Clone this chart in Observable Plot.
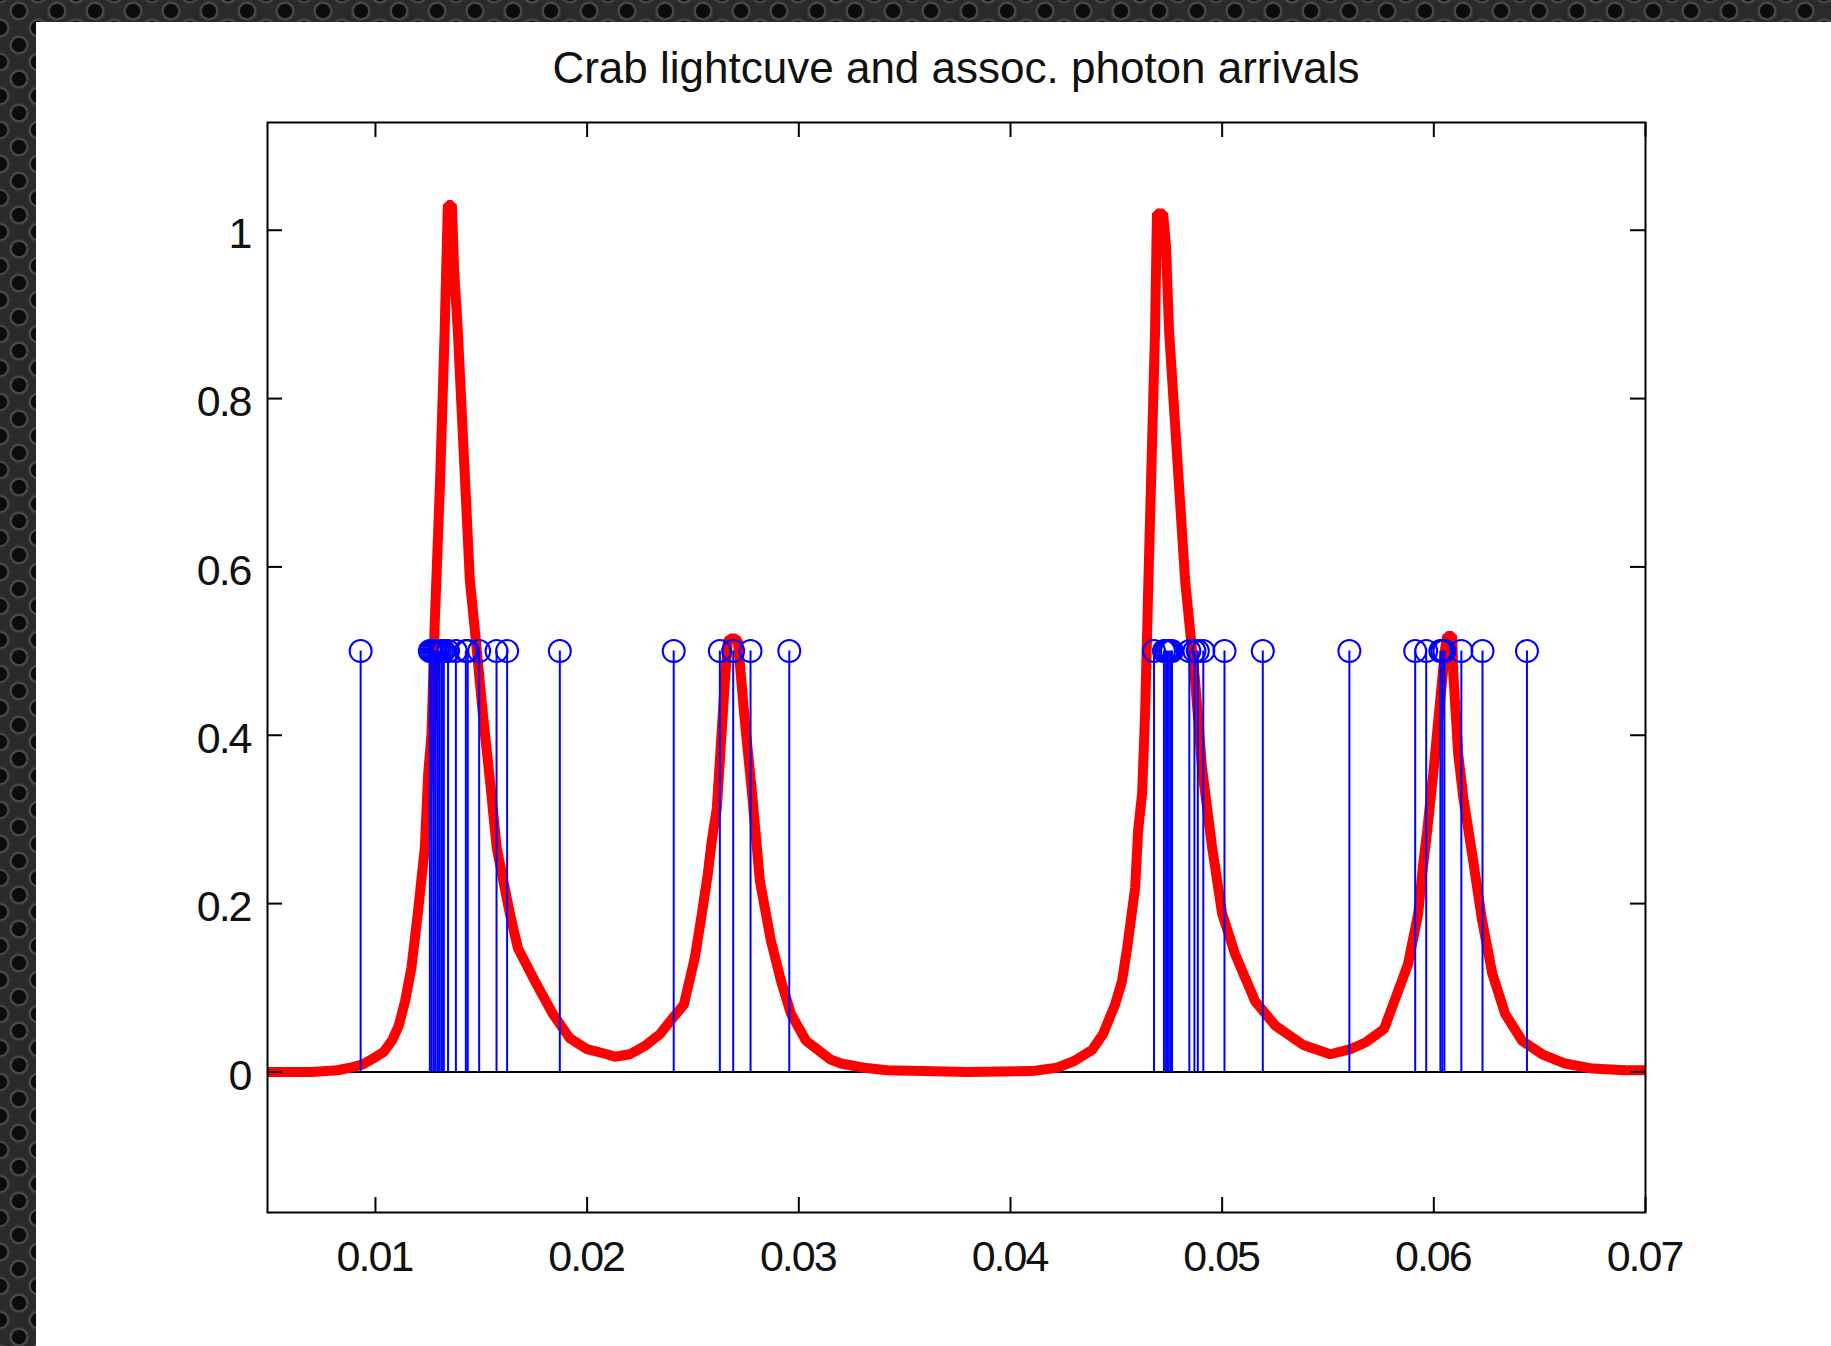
<!DOCTYPE html>
<html>
<head>
<meta charset="utf-8">
<script src="https://cdn.jsdelivr.net/npm/d3@7"></script>
<script src="https://cdn.jsdelivr.net/npm/@observablehq/plot@0.6"></script>
<style>
  html, body { margin: 0; padding: 0; }
  body {
    width: 1831px; height: 1346px; overflow: hidden; position: relative;
    background-color: #2a2a2a;
    background-image:
      radial-gradient(circle at 50% 50%, #0c0c0c 0 6.5px, #555555 8px, #2e2e2e 10px, rgba(0,0,0,0) 11.5px),
      radial-gradient(circle at 50% 50%, #0c0c0c 0 6.5px, #555555 8px, #2e2e2e 10px, rgba(0,0,0,0) 11.5px);
    background-size: 38px 34px;
    background-position: 0 -6px, 19px 11px;
  }
  #panel { position: absolute; left: 36px; top: 22px; width: 1795px; height: 1324px; background: #ffffff; }
  #title {
    position: absolute; left: 231px; width: 1378px; top: 24px;
    text-align: center; font-family: "Liberation Sans", Arial, sans-serif;
    font-size: 44px; line-height: 44px; color: #111;
  }
  #chart { position: absolute; left: 0; top: 56px; }
  #chart svg text { letter-spacing: -2px; }
</style>
</head>
<body>
<div id="panel">
  <div id="title">Crab lightcuve and assoc. photon arrivals</div>
  <div id="chart"></div>
</div>
<script>
// Light curve (two pulse periods)
const curveX = [
  0.0049, 0.0070, 0.0082, 0.0088, 0.0094, 0.0099, 0.0104, 0.0108, 0.0111, 0.0114,
  0.0117, 0.0120, 0.01233, 0.01249, 0.01265, 0.01280, 0.01305, 0.01327, 0.01342, 0.01361,
  0.01372, 0.01389, 0.01446, 0.01470, 0.01507, 0.01541, 0.01573, 0.01635, 0.01673, 0.01753,
  0.01838, 0.01918, 0.02000, 0.02094, 0.02131, 0.02202, 0.02273, 0.02344, 0.02401, 0.02457,
  0.02509, 0.02542, 0.02570, 0.02589, 0.02613, 0.02627, 0.02651, 0.02665, 0.02689, 0.02712,
  0.02745, 0.02778, 0.02816, 0.02868, 0.02916, 0.02963, 0.03034, 0.03148, 0.03199, 0.03308,
  0.03417, 0.03800, 0.04100, 0.04220, 0.04301, 0.04385, 0.04437, 0.04494, 0.04527, 0.04551,
  0.04589, 0.04603, 0.04622, 0.04636, 0.04650, 0.04683, 0.04692, 0.04721, 0.04735, 0.04749,
  0.04825, 0.04872, 0.04905, 0.04953, 0.05000, 0.05061, 0.05156, 0.05251, 0.05383, 0.05511,
  0.05605, 0.05677, 0.05765, 0.05878, 0.05926, 0.05950, 0.05969, 0.05997, 0.06030, 0.06054,
  0.06063, 0.06087, 0.06092, 0.06115, 0.06139, 0.06181, 0.06228, 0.06276, 0.06337, 0.06417,
  0.06512, 0.06620, 0.06750, 0.06900, 0.07000
];
const curveY = [
  0.000, 0.000, 0.002, 0.005, 0.009, 0.016, 0.024, 0.038, 0.055, 0.084,
  0.124, 0.188, 0.266, 0.354, 0.402, 0.533, 0.700, 0.881, 1.030, 1.030,
  0.950, 0.881, 0.584, 0.524, 0.426, 0.346, 0.266, 0.188, 0.147, 0.108,
  0.069, 0.040, 0.027, 0.021, 0.018, 0.021, 0.031, 0.045, 0.063, 0.080,
  0.136, 0.188, 0.235, 0.275, 0.314, 0.370, 0.465, 0.512, 0.516, 0.512,
  0.417, 0.334, 0.227, 0.156, 0.108, 0.069, 0.037, 0.015, 0.010, 0.005,
  0.002, 0.000, 0.001, 0.005, 0.013, 0.026, 0.045, 0.080, 0.108, 0.147,
  0.219, 0.287, 0.331, 0.426, 0.568, 0.881, 1.020, 1.020, 0.980, 0.881,
  0.584, 0.465, 0.361, 0.266, 0.188, 0.140, 0.084, 0.055, 0.032, 0.021,
  0.027, 0.035, 0.051, 0.128, 0.188, 0.247, 0.287, 0.354, 0.441, 0.504,
  0.518, 0.518, 0.473, 0.378, 0.326, 0.259, 0.180, 0.117, 0.069, 0.037,
  0.021, 0.010, 0.004, 0.002, 0.002
];

// Photon arrival times (stems drawn at height 0.5)
const photonTimes = [
  0.00930, 0.01257, 0.01266, 0.01276, 0.01285, 0.01295, 0.01304, 0.01314, 0.01323, 0.01343,
  0.01380, 0.01427, 0.01436, 0.01490, 0.01572, 0.01622, 0.01871,
  0.02409, 0.02627, 0.02690, 0.02772, 0.02955,
  0.04678, 0.04725, 0.04735, 0.04744, 0.04754, 0.04763, 0.04845, 0.04869, 0.04885, 0.04911,
  0.05011, 0.05192, 0.05601,
  0.05912, 0.05964, 0.06031, 0.06040, 0.06050, 0.06130, 0.06230, 0.06440
];
const photonHeight = 0.5;

const xTicks = [0.01, 0.02, 0.03, 0.04, 0.05, 0.06, 0.07];
const xTickLabels = ["0.01", "0.02", "0.03", "0.04", "0.05", "0.06", "0.07"];
const yTicks = [0, 0.2, 0.4, 0.6, 0.8, 1];
const yTickLabels = ["0", "0.2", "0.4", "0.6", "0.8", "1"];

const xDomain = [0.0049, 0.07];
const yDomain = [-0.167, 1.128];

const curve = curveX.map((x, i) => ({x, y: curveY[i]}));
const photons = photonTimes.map(x => ({x, y: photonHeight}));

const W = 1795, H = 1268;
const mL = 231, mR = 186, mT = 44, mB = 134;
const fw = W - mL - mR, fh = H - mT - mB;
const tickLen = 15;
const tickFont = '"Liberation Sans", Arial, sans-serif';

const chart = Plot.plot({
  width: W, height: H,
  marginLeft: mL, marginRight: mR, marginTop: mT, marginBottom: mB,
  x: {domain: xDomain},
  y: {domain: yDomain},
  style: {background: "transparent", color: "black", fontFamily: tickFont, fontSize: "43px", overflow: "visible"},
  marks: [
    Plot.ruleY([0], {stroke: "black", strokeWidth: 2}),
    Plot.line(curve, {x: "x", y: "y", stroke: "#ff0000", strokeWidth: 10, strokeLinejoin: "miter", strokeLinecap: "butt"}),
    Plot.ruleX(photons, {x: "x", y1: 0, y2: "y", stroke: "#0000ff", strokeWidth: 2}),
    Plot.dot(photons, {x: "x", y: "y", r: 11, stroke: "#0000ff", strokeWidth: 2, fill: "none"}),
    Plot.frame({stroke: "black", strokeWidth: 2}),
    Plot.tickX(xTicks, {x: d => d, insetTop: fh - tickLen, stroke: "black", strokeWidth: 2}),
    Plot.tickX(xTicks, {x: d => d, insetBottom: fh - tickLen, stroke: "black", strokeWidth: 2}),
    Plot.tickY(yTicks, {y: d => d, insetRight: fw - tickLen, stroke: "black", strokeWidth: 2}),
    Plot.tickY(yTicks, {y: d => d, insetLeft: fw - tickLen, stroke: "black", strokeWidth: 2}),
    Plot.axisX(xTicks, {tickSize: 0, tickPadding: 28, fontSize: 43, fill: "#111", dx: -1,
      tickFormat: d => xTickLabels[xTicks.indexOf(d)], label: null}),
    Plot.axisY(yTicks, {tickSize: 0, tickPadding: 17, fontSize: 43, fill: "#111", dy: 4,
      tickFormat: d => yTickLabels[yTicks.indexOf(d)], label: null})
  ]
});
document.getElementById("chart").appendChild(chart);
</script>
</body>
</html>
